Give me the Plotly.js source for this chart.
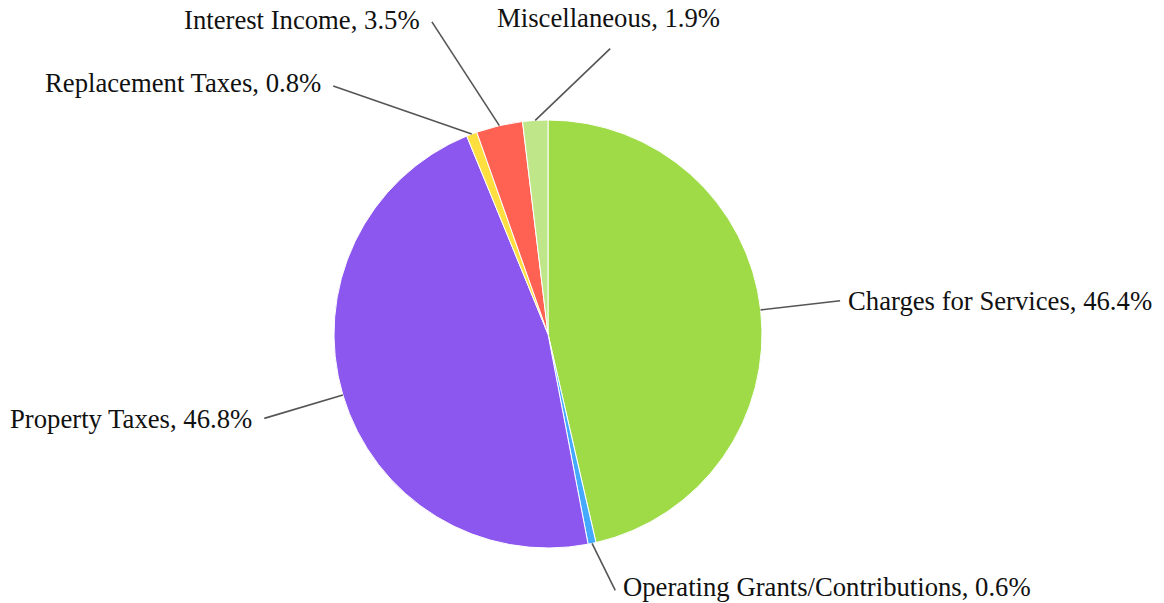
<!DOCTYPE html>
<html>
<head>
<meta charset="utf-8">
<script src="https://cdn.plot.ly/plotly-3.0.1.min.js"></script>
<style>html,body{margin:0;padding:0;background:#fff;}#chart{width:1164px;height:603px;}</style>
</head>
<body>
<div id="chart"></div>
<script>
// ---- data ----
const categories = ["Charges for Services", "Operating Grants/Contributions", "Property Taxes", "Replacement Taxes", "Interest Income", "Miscellaneous"];
const percents = [46.4, 0.6, 46.8, 0.8, 3.5, 1.9];
const sliceColors = ["#9edb47", "#45aaff", "#8b57ee", "#ffdf40", "#ff6152", "#c0e68a"];

// ---- layout config (pixels) ----
const W = 1164, H = 603;
const CX = 548, CY = 334, R = 214;
// leader line end: radius from centre, angle from 12 o'clock clockwise (deg) or null = slice mid angle
const leader = [
  {r: 294, ang: null, side: "right", dy: 0},
  {r: 265, ang: 165.3, side: "right", dy: -3},
  {r: 296, ang: null, side: "left", dy: 1},
  {r: 328, ang: 319.1, side: "left", dy: -3},
  {r: 333, ang: 339.6, side: "left", dy: -2},
  {r: 292, ang: 12.3, side: "top", dy: 0}
];
const FONT = {family: "Liberation Serif", size: 26.7, color: "#111"};

const px2x = p => p / W;
const px2y = p => 1 - p / H;

const total = percents.reduce((a, b) => a + b, 0);
const shapes = [], annotations = [];
let cum = 0;
percents.forEach((v, i) => {
  const mid = (cum + v / 2) / total * 360;
  cum += v;
  const a = mid * Math.PI / 180;
  const sx = CX + R * Math.sin(a), sy = CY - R * Math.cos(a);
  const L = leader[i];
  const ea = (L.ang === null ? mid : L.ang) * Math.PI / 180;
  const ex = CX + L.r * Math.sin(ea), ey = CY - L.r * Math.cos(ea);
  shapes.push({type: "line", xref: "paper", yref: "paper",
    x0: px2x(sx), y0: px2y(sy), x1: px2x(ex), y1: px2y(ey),
    line: {color: "#555", width: 1.6}});
  const text = categories[i] + ", " + v.toFixed(1) + "%";
  let ann = {xref: "paper", yref: "paper", text: text, showarrow: false, font: FONT};
  if (L.side === "right") { ann.x = px2x(ex + 6); ann.y = px2y(ey + L.dy); ann.xanchor = "left"; ann.yanchor = "middle"; }
  else if (L.side === "left") { ann.x = px2x(ex - 10); ann.y = px2y(ey + L.dy); ann.xanchor = "right"; ann.yanchor = "middle"; }
  else { ann.x = px2x(ex - 2); ann.y = px2y(ey - 14); ann.xanchor = "center"; ann.yanchor = "bottom"; }
  annotations.push(ann);
});

const trace = {
  type: "pie",
  labels: categories,
  values: percents,
  sort: false,
  direction: "clockwise",
  rotation: 0,
  textinfo: "none",
  hoverinfo: "label+percent",
  marker: {colors: sliceColors, line: {color: "#ffffff", width: 1}},
  domain: {x: [px2x(CX - R), px2x(CX + R)], y: [px2y(CY + R), px2y(CY - R)]},
  showlegend: false
};

Plotly.newPlot("chart", [trace], {
  width: W, height: H,
  margin: {l: 0, r: 0, t: 0, b: 0},
  paper_bgcolor: "#fff",
  showlegend: false,
  shapes: shapes,
  annotations: annotations
}, {displayModeBar: false, staticPlot: true});
</script>
</body>
</html>
